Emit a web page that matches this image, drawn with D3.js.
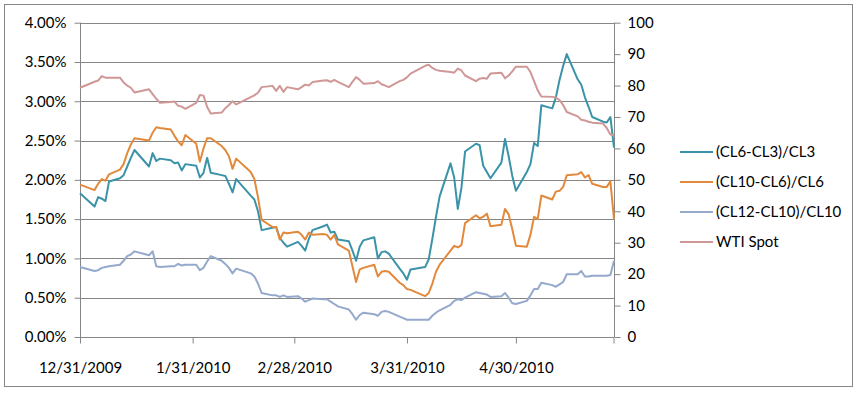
<!DOCTYPE html>
<html>
<head>
<meta charset="utf-8">
<script src="https://cdnjs.cloudflare.com/ajax/libs/d3/7.8.5/d3.min.js"></script>
<style>
  body { margin: 0; background: #fff; }
  text { font-family: Lato, "Open Sans", sans-serif; font-size: 15px; fill: #000; }
</style>
</head>
<body>
<script>
// trading days
var dates = ["2009-12-31",
  "2010-01-04","2010-01-05","2010-01-06","2010-01-07","2010-01-08","2010-01-11","2010-01-12","2010-01-13","2010-01-14","2010-01-15",
  "2010-01-19","2010-01-20","2010-01-21","2010-01-22","2010-01-25","2010-01-26","2010-01-27","2010-01-28","2010-01-29",
  "2010-02-01","2010-02-02","2010-02-03","2010-02-04","2010-02-05","2010-02-08","2010-02-09","2010-02-10","2010-02-11","2010-02-12",
  "2010-02-16","2010-02-17","2010-02-18","2010-02-19","2010-02-22","2010-02-23","2010-02-24","2010-02-25","2010-02-26",
  "2010-03-01","2010-03-02","2010-03-03","2010-03-04","2010-03-05","2010-03-08","2010-03-09","2010-03-10","2010-03-11","2010-03-12",
  "2010-03-15","2010-03-16","2010-03-17","2010-03-18","2010-03-19","2010-03-22","2010-03-23","2010-03-24","2010-03-25","2010-03-26",
  "2010-03-29","2010-03-30","2010-03-31",
  "2010-04-01","2010-04-05","2010-04-06","2010-04-07","2010-04-08","2010-04-09","2010-04-12","2010-04-13","2010-04-14","2010-04-15",
  "2010-04-16","2010-04-19","2010-04-20","2010-04-21","2010-04-22","2010-04-23","2010-04-26","2010-04-27","2010-04-28","2010-04-29","2010-04-30",
  "2010-05-03","2010-05-04","2010-05-05","2010-05-06","2010-05-07","2010-05-10","2010-05-11","2010-05-12","2010-05-13","2010-05-14",
  "2010-05-17","2010-05-18","2010-05-19","2010-05-20","2010-05-21","2010-05-24","2010-05-25","2010-05-26","2010-05-27"];

// (CL6-CL3)/CL3, percent
var spread63 = [1.83,
  1.66,1.78,1.76,1.73,1.98,2.02,2.06,2.17,2.28,2.38,2.17,2.34,2.24,2.27,2.25,2.21,2.22,2.12,2.20,
  2.18,2.03,2.09,2.28,2.09,2.06,2.05,1.95,1.84,2.01,1.80,1.75,1.60,1.36,1.39,1.40,1.26,1.20,1.15,
  1.21,1.16,1.10,1.25,1.36,1.41,1.43,1.33,1.34,1.24,1.22,1.10,0.97,1.15,1.23,1.27,1.00,1.08,1.09,1.06,0.87,0.81,0.73,
  0.86,0.89,0.99,1.25,1.53,1.79,2.21,2.03,1.63,1.90,2.36,2.46,2.44,2.18,2.10,2.02,2.22,2.52,2.30,2.05,1.86,
  2.10,2.20,2.47,2.43,2.95,2.91,3.05,3.27,3.45,3.60,3.28,3.21,3.05,2.93,2.80,2.74,2.73,2.80,2.41];

// (CL10-CL6)/CL6, percent
var spread106 = [1.94,
  1.87,1.95,2.01,1.99,2.07,2.13,2.20,2.34,2.45,2.53,2.50,2.60,2.67,2.66,2.64,2.56,2.49,2.44,2.57,
  2.46,2.23,2.40,2.53,2.53,2.43,2.38,2.30,2.14,2.27,2.10,2.01,1.78,1.49,1.40,1.40,1.24,1.33,1.32,
  1.34,1.30,1.24,1.33,1.30,1.31,1.30,1.24,1.30,1.18,1.10,0.90,0.70,0.86,0.88,0.92,0.77,0.83,0.84,0.83,0.69,0.66,0.61,
  0.60,0.52,0.56,0.68,0.83,0.92,1.10,1.16,1.14,1.17,1.45,1.55,1.51,1.53,1.57,1.41,1.43,1.63,1.56,1.37,1.16,
  1.15,1.30,1.53,1.50,1.80,1.75,1.85,1.86,1.91,2.06,2.07,2.10,2.03,2.06,1.95,1.91,1.91,1.98,1.50];

// (CL12-CL10)/CL10, percent
var spread1210 = [0.89,
  0.84,0.85,0.88,0.89,0.90,0.92,0.97,1.03,1.05,1.09,1.04,1.09,0.90,0.89,0.90,0.90,0.93,0.91,0.92,
  0.92,0.85,0.88,0.96,1.03,0.97,0.93,0.88,0.81,0.87,0.81,0.77,0.68,0.56,0.53,0.53,0.51,0.53,0.51,
  0.52,0.49,0.45,0.47,0.49,0.48,0.48,0.45,0.42,0.39,0.35,0.29,0.22,0.28,0.31,0.29,0.27,0.32,0.33,0.32,0.26,0.24,0.22,
  0.22,0.22,0.22,0.27,0.31,0.34,0.41,0.46,0.48,0.47,0.50,0.57,0.56,0.55,0.54,0.51,0.52,0.56,0.50,0.43,0.42,
  0.46,0.53,0.61,0.61,0.69,0.66,0.64,0.67,0.70,0.80,0.80,0.84,0.77,0.77,0.78,0.78,0.78,0.79,0.97];

// WTI spot, $/bbl (right axis)
var wti = [79.3,
  81.2,81.6,83.0,82.5,82.5,82.5,81.0,80.0,79.3,77.8,78.8,77.3,75.8,74.5,74.8,74.9,73.6,73.3,72.6,
  74.5,77.0,76.8,73.2,71.1,71.4,72.8,73.8,75.0,74.0,76.3,76.9,77.7,79.5,79.9,78.3,79.9,78.0,79.5,
  78.8,79.5,80.3,80.0,81.1,81.6,81.7,81.2,81.8,81.2,79.5,81.2,82.7,81.8,80.6,80.8,81.4,80.4,80.0,79.5,81.4,81.8,82.6,
  83.8,86.3,86.6,85.6,85.0,84.7,84.3,84.1,85.4,84.8,83.2,81.4,82.2,82.4,82.2,83.8,84.1,82.3,83.2,84.5,86.0,
  86.0,84.3,81.4,78.5,76.5,76.4,76.2,75.4,73.8,71.6,70.2,69.1,68.9,68.5,68.2,67.9,66.5,64.4,64.3];

var seriesNames = ["(CL6-CL3)/CL3", "(CL10-CL6)/CL6", "(CL12-CL10)/CL10", "WTI Spot"];
var seriesColors = ["#3b93a9", "#e3893c", "#94a9cb", "#cf9897"];
var xTickDates = ["2009-12-31", "2010-01-31", "2010-02-28", "2010-03-31", "2010-04-30"];
var leftTicks = [0, 0.5, 1, 1.5, 2, 2.5, 3, 3.5, 4];
var rightTicks = [0, 10, 20, 30, 40, 50, 60, 70, 80, 90, 100];

var width = 858, height = 395;
var plotLeft = 80, plotRight = 614, plotTop = 22.7, plotBottom = 337;
var parse = d3.timeParse("%Y-%m-%d");
var days = dates.map(parse);

var svg = d3.select("body").append("svg")
    .attr("width", width)
    .attr("height", height);

// chart border
svg.append("rect")
    .attr("x", 4.5).attr("y", 4.5)
    .attr("width", 848).attr("height", 382)
    .attr("fill", "#fff")
    .attr("stroke", "#868686");

var x = d3.scaleTime()
    .domain([parse("2009-12-31"), parse("2010-05-27")])
    .range([plotLeft, plotRight]);
var y = d3.scaleLinear().domain([0, 4]).range([plotBottom, plotTop]);
var y2 = d3.scaleLinear().domain([0, 100]).range([plotBottom, plotTop]);

// gridlines
svg.append("g").selectAll("line")
    .data(leftTicks.slice(1))
    .enter().append("line")
    .attr("x1", plotLeft).attr("x2", plotRight)
    .attr("y1", d => Math.round(y(d)) + 0.5)
    .attr("y2", d => Math.round(y(d)) + 0.5)
    .attr("stroke", "#868686");

var fmt = d3.timeFormat("%-m/%-d/%Y");

var xAxis = svg.append("g")
    .attr("transform", "translate(0," + (Math.round(plotBottom) + 0.5) + ")")
    .call(d3.axisBottom(x).tickValues(xTickDates.map(parse)).tickFormat(fmt).tickSize(6).tickSizeOuter(0));

var yAxis = svg.append("g")
    .attr("transform", "translate(" + (plotLeft + 0.5) + ",0)")
    .call(d3.axisLeft(y).tickValues(leftTicks).tickFormat(d => d.toFixed(2) + "%").tickSize(6).tickSizeOuter(0));

var yAxis2 = svg.append("g")
    .attr("transform", "translate(" + (plotRight + 0.5) + ",0)")
    .call(d3.axisRight(y2).tickValues(rightTicks).tickSize(6).tickSizeOuter(0));

[xAxis, yAxis, yAxis2].forEach(function(g) {
    g.selectAll("path, line").attr("stroke", "#868686");
    g.selectAll("text").style("font-size", "15px").style("font-family", "Lato, sans-serif").attr("fill", "#000");
});
xAxis.selectAll("text").attr("dy", "1.75em");
yAxis.selectAll("text").attr("x", -14);
yAxis2.selectAll("text").attr("x", 13);
yAxis2.select(".domain").attr("d", "M0," + plotTop + "V" + plotBottom);
yAxis.select(".domain").attr("d", "M0," + plotTop + "V" + plotBottom);
xAxis.select(".domain").attr("d", "M" + plotLeft + ",0H" + plotRight);
// tick at right end of the date axis
xAxis.append("line").attr("x1", plotRight).attr("x2", plotRight).attr("y1", 0).attr("y2", 6).attr("stroke", "#868686");

var line1 = d3.line().x((d, i) => x(days[i])).y(d => y(d));
var line2 = d3.line().x((d, i) => x(days[i])).y(d => y2(d));

var allSeries = [spread63, spread106, spread1210, wti];
allSeries.forEach(function(s, k) {
    svg.append("path")
        .datum(s)
        .attr("d", k < 3 ? line1 : line2)
        .attr("fill", "none")
        .attr("stroke", seriesColors[k])
        .attr("stroke-width", 2)
        .attr("stroke-linejoin", "round");
});

// legend
var legend = svg.append("g").attr("transform", "translate(680,152)");
seriesNames.forEach(function(name, k) {
    var g = legend.append("g").attr("transform", "translate(0," + (k * 30) + ")");
    g.append("line")
        .attr("x1", 0).attr("x2", 33)
        .attr("stroke", seriesColors[k])
        .attr("stroke-width", 2);
    g.append("text")
        .attr("x", 36).attr("y", 5)
        .text(name);
});
</script>
</body>
</html>
